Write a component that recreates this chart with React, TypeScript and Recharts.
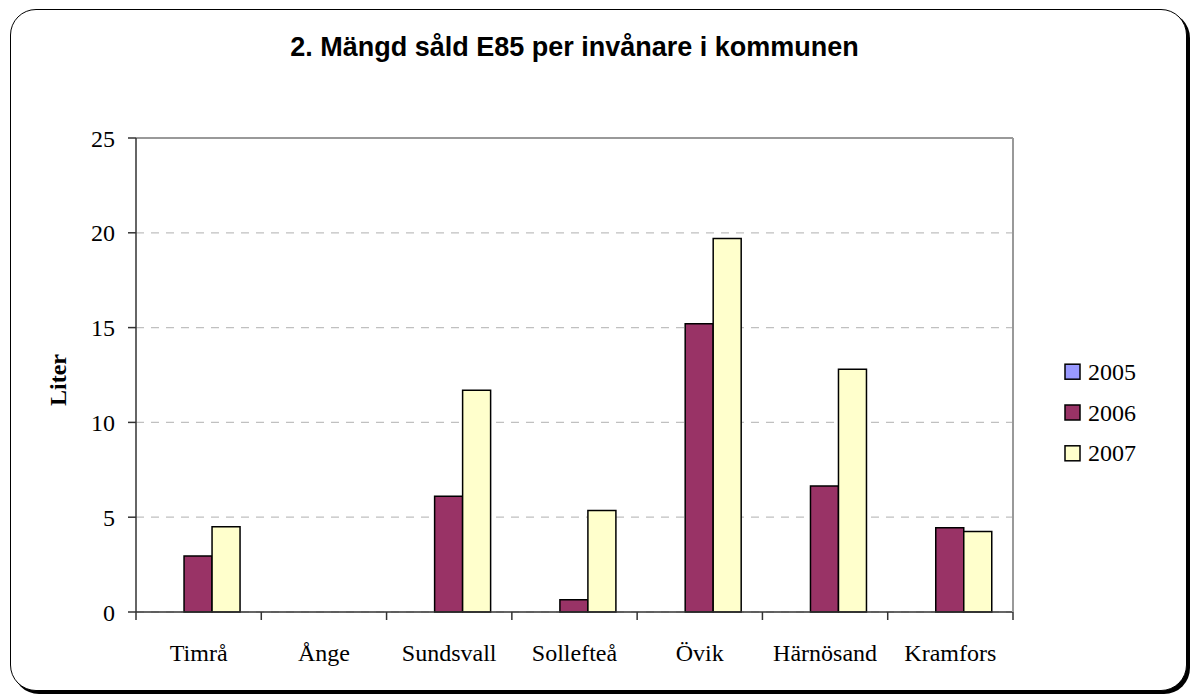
import React from "react";
import {
  BarChart,
  Bar,
  XAxis,
  YAxis,
  CartesianGrid,
  ReferenceLine,
} from "recharts";

const categories = ["Timrå", "Ånge", "Sundsvall", "Sollefteå", "Övik", "Härnösand", "Kramfors"];
const years = ["2005", "2006", "2007"];
const values2005: (number | null)[] = [null, null, null, null, null, null, null];
const values2006: (number | null)[] = [2.95, null, 6.1, 0.65, 15.2, 6.65, 4.45];
const values2007: (number | null)[] = [4.5, null, 11.7, 5.35, 19.7, 12.8, 4.25];
const yTicks = [0, 5, 10, 15, 20, 25];

const COLORS = ["#9999FF", "#993366", "#FFFFCC"];
const SERIF = '"Liberation Serif", "Times New Roman", serif';
const SANS = '"Liberation Sans", Arial, sans-serif';
const AXIS = "#333333";

const data = categories.map((name, i) => ({
  name,
  "2005": values2005[i],
  "2006": values2006[i],
  "2007": values2007[i],
}));

// plot area geometry (chart margins)
const W = 1193;
const H = 695;
const margin = { top: 138, right: 179, bottom: 43, left: 76 };
const Y_AXIS_W = 60;
const plotW = W - margin.left - Y_AXIS_W - margin.right - 1;
const bw = plotW / categories.length;

const CategoryTick = ({ x, y, payload, index }: any) => {
  const left = x - bw / 2;
  const last = index === categories.length - 1;
  return (
    <g>
      <line x1={left} x2={left} y1={y - 8} y2={y} stroke={AXIS} strokeWidth={1.5} />
      {last && <line x1={x + bw / 2} x2={x + bw / 2} y1={y - 8} y2={y} stroke={AXIS} strokeWidth={1.5} />}
      <text x={x} y={y + 41} textAnchor="middle" fontFamily={SERIF} fontSize={24} fill="#000">
        {payload.value}
      </text>
    </g>
  );
};

const ChartLegend = () => (
  <svg width={130} height={130} style={{ position: "absolute", left: 1062, top: 350 }}>
    {years.map((yr, i) => {
      const cy = 21.7 + i * 40.8;
      return (
        <g key={yr}>
          <rect x={3} y={cy - 7.5} width={15} height={15} fill={COLORS[i]} stroke="#000" strokeWidth={1.5} />
          <text x={26} y={cy + 8} fontFamily={SERIF} fontSize={24} fill="#000">
            {yr}
          </text>
        </g>
      );
    })}
  </svg>
);

export default function App() {
  return (
    <div style={{ position: "absolute", left: 0, top: 0, width: W, height: H, background: "#fff" }}>
      <div
        style={{
          position: "absolute",
          left: 10,
          top: 9,
          width: 1175,
          height: 680,
          border: "1.5px solid #000",
          borderRadius: 26,
          boxShadow: "3px 3px 0 #000",
          background: "#fff",
        }}
      />
      <div
        style={{
          position: "absolute",
          left: 0,
          width: 1149,
          top: 30,
          textAlign: "center",
          fontFamily: SANS,
          fontWeight: "bold",
          fontSize: 27,
          lineHeight: "34px",
        }}
      >
        2. Mängd såld E85 per invånare i kommunen
      </div>
      <div
        style={{
          position: "absolute",
          left: 58,
          top: 380,
          transform: "translate(-50%, -50%) rotate(-90deg)",
          fontFamily: SERIF,
          fontWeight: "bold",
          fontSize: 24,
          lineHeight: "24px",
          whiteSpace: "nowrap",
        }}
      >
        Liter
      </div>
      <div style={{ position: "absolute", left: 0, top: 0 }}>
        <BarChart
          width={W}
          height={H}
          data={data}
          margin={margin}
          barCategoryGap="16%"
          barGap={0}
        >
          <CartesianGrid vertical={false} stroke="#c0c0c0" strokeDasharray="8 7" strokeWidth={1.2} />
          <XAxis
            dataKey="name"
            interval={0}
            height={40}
            tickSize={8}
            tickMargin={0}
            tickLine={false}
            axisLine={{ stroke: AXIS, strokeWidth: 1.5 }}
            tick={<CategoryTick />}
          />
          <YAxis
            width={Y_AXIS_W}
            domain={[0, 25]}
            ticks={yTicks}
            interval={0}
            tickSize={8}
            tickMargin={13}
            axisLine={{ stroke: AXIS, strokeWidth: 1.5 }}
            tickLine={{ stroke: AXIS, strokeWidth: 1.5 }}
            tick={{ fill: "#000", fontFamily: SERIF, fontSize: 24 }}
          />
          <YAxis
            yAxisId="frame"
            orientation="right"
            width={1}
            domain={[0, 25]}
            tick={false}
            tickLine={false}
            axisLine={{ stroke: "#999999", strokeWidth: 2 }}
          />
          <ReferenceLine y={25} stroke="#999999" strokeWidth={2} />
          {years.map((yr, i) => (
            <Bar
              key={yr}
              dataKey={yr}
              fill={COLORS[i]}
              stroke="#000"
              strokeWidth={1.5}
              isAnimationActive={false}
            />
          ))}
        </BarChart>
      </div>
      <ChartLegend />
    </div>
  );
}
